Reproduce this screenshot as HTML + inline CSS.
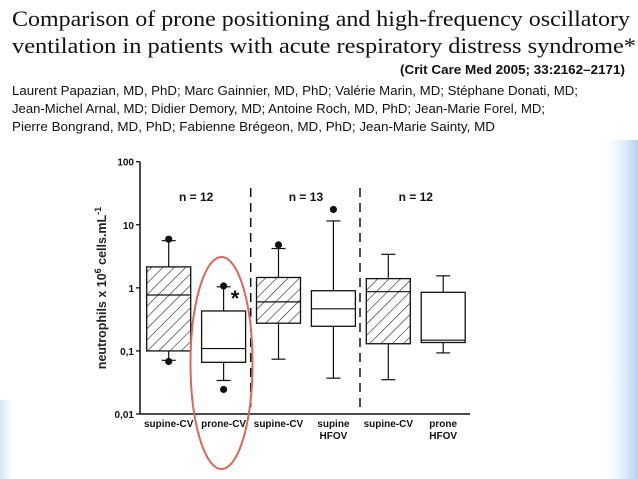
<!DOCTYPE html>
<html><head><meta charset="utf-8"><style>
html,body{margin:0;padding:0;background:#fff;}
svg{display:block;}
</style></head><body>
<svg id="page" width="638" height="479" viewBox="0 0 638 479">
<defs>
<linearGradient id="edge" x1="0" x2="1" y1="0" y2="0">
<stop offset="0" stop-color="#fff" stop-opacity="0"/>
<stop offset="1" stop-color="#b3cff0"/>
</linearGradient>
<linearGradient id="edgeL" x1="1" x2="0" y1="0" y2="0">
<stop offset="0" stop-color="#fff" stop-opacity="0"/>
<stop offset="1" stop-color="#d6e4f6"/>
</linearGradient>
<pattern id="hatch" patternUnits="userSpaceOnUse" width="8" height="8" patternTransform="rotate(45)">
<line x1="0" y1="0" x2="0" y2="8" stroke="#222" stroke-width="1.2"/>
</pattern>
</defs>
<rect x="600" y="140" width="38" height="339" fill="url(#edge)"/>
<rect x="0" y="400" width="18" height="79" fill="url(#edgeL)"/>

<g font-family="'Liberation Serif', serif" fill="#111">
<text x="12" y="26" font-size="22" textLength="618" lengthAdjust="spacingAndGlyphs">Comparison of prone positioning and high-frequency oscillatory</text>
<text x="12" y="53" font-size="22" textLength="624" lengthAdjust="spacingAndGlyphs">ventilation in patients with acute respiratory distress syndrome*</text>
</g>
<text x="400" y="74" font-family="'Liberation Sans', sans-serif" font-weight="bold" font-size="13" textLength="225" lengthAdjust="spacingAndGlyphs" fill="#111">(Crit Care Med 2005; 33:2162–2171)</text>
<g font-family="'Liberation Sans', sans-serif" font-size="13" fill="#111">
<text x="12" y="95" textLength="566" lengthAdjust="spacingAndGlyphs">Laurent Papazian, MD, PhD; Marc Gainnier, MD, PhD; Valérie Marin, MD; Stéphane Donati, MD;</text>
<text x="12" y="113" textLength="533" lengthAdjust="spacingAndGlyphs">Jean-Michel Arnal, MD; Didier Demory, MD; Antoine Roch, MD, PhD; Jean-Marie Forel, MD;</text>
<text x="12" y="131" textLength="483" lengthAdjust="spacingAndGlyphs">Pierre Bongrand, MD, PhD; Fabienne Brégeon, MD, PhD; Jean-Marie Sainty, MD</text>
</g>
<g id="chart"></g>
</svg>
<script>
const categories = ["supine-CV","prone-CV","supine-CV","supine HFOV","supine-CV","prone HFOV"];
const q1Values = [0.1,0.066,0.275,0.246,0.13,0.136];
const medianValues = [0.77,0.109,0.6,0.465,0.87,0.148];
const q3Values = [2.15,0.43,1.46,0.9,1.4,0.85];
const whiskerLow = [0.071,0.034,0.074,0.037,0.035,0.093];
const whiskerHigh = [5.6,1.04,4.2,11.5,3.4,1.55];
const outlierValues = [5.9,0.068,1.07,0.0245,4.8,17.5];
const outlierIdx = [0,0,1,1,2,3];
const hatched = [true,false,true,false,true,false];
const groupLabels = ["n = 12","n = 13","n = 12"];
const yTicks = [100,10,1,0.1,0.01];
const yTickLabels = ["100","10","1","0,1","0,01"];

const NS="http://www.w3.org/2000/svg";
const g=document.getElementById('chart');
const X0=140,X1=470,Ytop=161.7,Ybot=414;
function y(v){return Ybot-(Math.log10(v)+2)/4*(Ybot-Ytop);}
const slot=54.9;
function xc(i){return X0+28.7+slot*i;}
function mk(tag,attrs){const e=document.createElementNS(NS,tag);for(const k in attrs)e.setAttribute(k,attrs[k]);g.appendChild(e);return e;}

let e;
e=mk('line',{x1:X0,y1:Ytop,x2:X0,y2:Ybot,stroke:'#111','stroke-width':1.5});


e=mk('line',{x1:X0,y1:Ybot,x2:X1,y2:Ybot,stroke:'#111','stroke-width':1.5});


yTicks.forEach((t,i)=>{
  e=mk('line',{x1:X0-4,y1:y(t),x2:X0,y2:y(t),stroke:'#111','stroke-width':1.3});
  
  
  e=mk('text',{x:X0-6,y:y(t)+4,'text-anchor':'end','font-family':"'Liberation Sans',sans-serif",'font-size':10,'font-weight':'bold',fill:'#111'});
  e.textContent=yTickLabels[i];
  
  
});
e=mk('text',{transform:'translate(106,288) rotate(-90)','text-anchor':'middle','font-family':"'Liberation Sans',sans-serif",'font-size':12.5,'font-weight':'bold',fill:'#222'});
e.innerHTML='neutrophils x 10<tspan dy="-5" font-size="9">6</tspan><tspan dy="5"> cells.mL</tspan><tspan dy="-5" font-size="9">-1</tspan>';



[250.7,360].forEach(xv=>{
  e=mk('line',{x1:xv,y1:188,x2:xv,y2:410,stroke:'#111','stroke-width':1.5,'stroke-dasharray':'9,6'});
  
  
});
groupLabels.forEach((l,i)=>{
  e=mk('text',{x:(xc(2*i)+xc(2*i+1))/2,y:201,'text-anchor':'middle','font-family':"'Liberation Sans',sans-serif",'font-size':12,'font-weight':'bold',fill:'#111'});
  e.textContent=l;
  
  
});

const hw=22;
categories.forEach((c,i)=>{
  const cx=xc(i);
  e=mk('line',{x1:cx,y1:y(whiskerHigh[i]),x2:cx,y2:y(q3Values[i]),stroke:'#111','stroke-width':1.2});
  
  
  e=mk('line',{x1:cx,y1:y(q1Values[i]),x2:cx,y2:y(whiskerLow[i]),stroke:'#111','stroke-width':1.2});
  
  
  [whiskerHigh[i],whiskerLow[i]].forEach(v=>{
    e=mk('line',{x1:cx-7,y1:y(v),x2:cx+7,y2:y(v),stroke:'#111','stroke-width':1.2});
    
    
  });
  e=mk('rect',{x:cx-hw,y:y(q3Values[i]),width:2*hw,height:y(q1Values[i])-y(q3Values[i]),fill:hatched[i]?'url(#hatch)':'#fff',stroke:'#111','stroke-width':1.3});
  
  
  e=mk('line',{x1:cx-hw,y1:y(medianValues[i]),x2:cx+hw,y2:y(medianValues[i]),stroke:'#111','stroke-width':1.2});
  
  
  const lines=c.split(' ');
  lines.forEach((ln,k)=>{
    e=mk('text',{x:cx,y:427+k*12,'text-anchor':'middle','font-family':"'Liberation Sans',sans-serif",'font-size':10,'font-weight':'bold',fill:'#111'});
    e.textContent=ln;
    
    
  });
});
outlierValues.forEach((v,k)=>{
  e=mk('circle',{cx:xc(outlierIdx[k]),cy:y(v),r:3.6,fill:'#111'});
  
  
});
e=mk('text',{x:235,y:306,'text-anchor':'middle','font-family':"'Liberation Sans',sans-serif",'font-size':22,'font-weight':'bold',fill:'#111'});
e.textContent='*';


e=mk('ellipse',{cx:221.5,cy:363,rx:31,ry:106,fill:'none',stroke:'#d9685a','stroke-width':2});


</script>
</body></html>
